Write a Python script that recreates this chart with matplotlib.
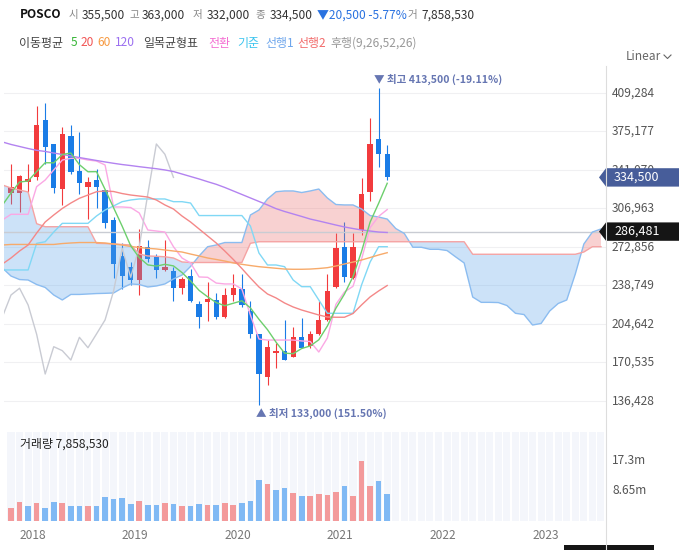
import numpy as np
import matplotlib
matplotlib.use('Agg')
import matplotlib.pyplot as plt
from matplotlib.patches import Polygon, Rectangle

plt.rcParams['font.family'] = ['Noto Sans CJK KR', 'DejaVu Sans']

W, H, DPI = 679, 550, 100

# ---------------- data (monthly candles, Oct 2017 .. Jun 2021) ----------------
opens = [320400, 320900, 330700, 335100, 385400, 364100, 324200, 371200, 339900, 326300,
         332200, 323300, 296800, 264900, 254900, 243900, 272600, 264000, 252700, 251600,
         236800, 247100, 222300, 224400, 225900, 211100, 230300, 235400, 216100, 195800,
         157900, 178700, 180700, 175700, 192800, 185400, 195500, 208200, 237100, 272800,
         245600, 287900, 321300, 368500, 355500]
highs = [346100, 336600, 346100, 397800, 400200, 364100, 378900, 380900, 375000, 334600,
         341700, 323300, 299700, 276100, 259300, 288800, 279000, 266400, 279000, 255400,
         246300, 253100, 225300, 241600, 231800, 236300, 248700, 248700, 225300, 195800,
         190400, 187500, 208200, 202200, 210200, 198400, 225000, 248900, 285000, 295300,
         285000, 334200, 387400, 413500, 363000]
lows = [310700, 304100, 321300, 332200, 346100, 320400, 310100, 337300, 319500, 297600,
        307100, 289400, 245600, 235600, 239200, 230300, 259800, 245100, 251600, 225300,
        231200, 224100, 200800, 207500, 209000, 210200, 225300, 219900, 192500, 133000,
        150600, 165900, 172700, 175700, 183100, 183100, 194900, 207300, 236200, 242100,
        244500, 283500, 313600, 344000, 332000]
closes = [326000, 335700, 333100, 380900, 361700, 325400, 373000, 339600, 329300, 330200,
          326300, 294400, 258000, 247400, 243600, 273700, 262200, 252700, 255100, 236800,
          244200, 225300, 210600, 226800, 211100, 230300, 236300, 221500, 195500, 160300,
          184500, 181000, 172700, 192800, 183600, 195800, 208200, 233900, 271700, 246000,
          273100, 319800, 364100, 355000, 334500]
volumes_m = [3.84, 5.38, 4.23, 5.09, 3.84, 5.38, 5.09, 4.23, 4.23, 4.23, 4.23,
             7.02, 6.25, 6.54, 4.80, 5.67, 4.52, 4.52, 5.09, 4.80, 4.23,
             4.23, 4.80, 4.52, 4.52, 5.09, 4.52, 5.09, 5.67, 11.72, 10.57,
             8.84, 9.42, 7.98, 7.11, 7.11, 7.69, 7.40, 8.27, 10.0, 7.11,
             17.2, 10.0, 11.44, 7.86]

# indicator lines, positions -1 .. 44
ma5 = [310000, 320700, 330400, 331300, 339700, 347500, 347400, 354800, 356100, 345800,
       339500, 339600, 323900, 307600, 291300, 273900, 263400, 257000, 255900, 257500,
       256100, 250200, 242800, 234400, 228700, 223600, 220800, 223000, 225200, 218900,
       208800, 199600, 188500, 178800, 178300, 182900, 185200, 190600, 202800, 218600,
       231100, 246600, 268900, 294900, 311600, 329300]
ma20 = [257800, 263100, 269300, 274600, 285200, 295000, 301200, 307000, 311800, 316000,
        318900, 321800, 322500, 322000, 320200, 318900, 318000, 317100, 314500, 310100,
        306500, 300300, 295000, 288800, 282600, 276400, 269300, 261800, 253800, 245400,
        237400, 231200, 227700, 223200, 219700, 217000, 214800, 212600, 210800, 210600,
        210600, 213900, 221500, 228600, 233900, 238700]
ma60 = [274600, 275100, 275100, 275100, 275100, 275100, 275100, 275900, 276400, 276800,
        276800, 276800, 276400, 275500, 274600, 273300, 272400, 271700, 271100, 270200,
        269300, 268400, 266600, 264900, 263100, 261800, 260400, 258700, 257500, 256400,
        255400, 254700, 254000, 253300, 253100, 253100, 253300, 253800, 254500, 256000,
        257800, 259500, 261300, 263500, 265800, 267800]
ma120 = [365900, 363700, 361900, 360100, 358500, 357500, 356100, 354800, 353500, 352100,
         350800, 349500, 348200, 347000, 345900, 345000, 344000, 343100, 342200, 341100,
         339700, 337500, 335300, 333100, 330700, 328400, 325600, 322500, 319400, 316300,
         313200, 310100, 306800, 304300, 302100, 299900, 297600, 295900, 294100, 292300,
         290600, 289200, 287900, 287000, 286100, 285700]
conversion = [296800, 301800, 301800, 301800, 326300, 332200, 341100, 349900, 351400, 351400,
              349900, 349000, 345500, 308300, 308300, 307800, 303000, 287900, 287000, 286100,
              273100, 263100, 258700, 246300, 246000, 240900, 240100, 240100, 235600, 212600,
              191300, 190400, 190400, 190400, 190400, 189600, 189100, 179800, 192200, 222000,
              233000, 238000, 262000, 290000, 300000, 306000]
base = [252500, 252500, 252500, 252500, 276100, 277500, 286100, 293800, 293800, 293800,
        293800, 300300, 305600, 309200, 313000, 314500, 315400, 315400, 315400, 315400,
        313000, 313000, 311800, 300700, 300700, 300700, 300700, 300700, 300700, 291400,
        267500, 256900, 256900, 255400, 243600, 237700, 237700, 225900, 214100, 214100,
        214100, 214100, 239200, 259500, 273100, 273100]
# leading spans, positions -1 .. 69
span1 = [254200, 247100, 244000, 243600, 239600, 237000, 230300, 225900, 230800, 230800,
         231200, 231600, 231800, 232100, 236500, 240100, 239600, 237400, 238300, 240100,
         244500, 248000, 255600, 264900, 273100, 274600, 276800, 276800, 276800, 301200,
         305600, 315400, 321800, 322500, 322500, 321100, 322500, 324200, 316300, 310500,
         310100, 310100, 306500, 300700, 299400, 297600, 289200, 284800, 272600, 272600,
         270800, 270800, 269700, 264100, 258700, 228500, 223800, 223800, 223600, 221000,
         214100, 213000, 203700, 205100, 216100, 222800, 225900, 248900, 275500, 286100,
         288800]
span2 = ([327800, 325100, 323300, 321600, 293500] + [290800] * 6 +
         [276100, 275900, 275500, 275100, 274600, 266600, 264900, 264600, 264200, 263100,
          259600] + [259100] * 7 + [276100] + [277500] * 25 + [266400] * 13 +
         [268400, 273100, 273100])

price_ticks = [136428, 170535, 204642, 238749, 272856, 306963, 341070, 375177, 409284]
vol_ticks = [8.65, 17.3]
vol_tick_labels = ['8.65m', '17.3m']
year_labels = ['2018', '2019', '2020', '2021', '2022', '2023']
year_pos = [2.5, 14.5, 26.5, 38.5, 50.5, 62.5]
last_price = 334500
cross_price = 286481

# ---------------- figure ----------------
fig = plt.figure(figsize=(W / DPI, H / DPI), dpi=DPI)


def px_box(l, t, r, b):
    return [l / W, 1 - b / H, (r - l) / W, (b - t) / H]


ax = fig.add_axes(px_box(4, 70, 606, 428))
axv = fig.add_axes(px_box(4, 432, 606, 521))
XL = (-0.8187, 69.59)
for a in (ax, axv):
    a.set_xlim(*XL)
    for s in a.spines.values():
        s.set_visible(False)
    a.tick_params(left=False, right=False, bottom=False, top=False,
                  labelleft=False, labelbottom=False)
ax.set_ylim(112474, 429662)
axv.set_ylim(0, 25.66e6)

o = np.array(opens); h = np.array(highs); l = np.array(lows); c = np.array(closes)
idx = np.arange(len(o))
RED, BLUE = '#f23b3d', '#1a7ce6'
ccol = np.where(c >= o, RED, BLUE)

for v in price_ticks:
    ax.axhline(v, color='#f0f0f2', lw=0.8, zorder=0)

# candles
ax.vlines(idx, l, h, colors=ccol, lw=0.8, zorder=2)
ax.bar(idx, np.maximum(np.abs(c - o), 700), bottom=np.minimum(o, c), width=0.62,
       color=ccol, lw=0, zorder=2)

# cloud
xs = np.arange(-1, 70)
s1 = np.array(span1); s2 = np.array(span2)
ax.fill_between(xs, s1, s2, where=s1 >= s2, interpolate=True, color='#eb6969',
                alpha=0.3, lw=0, zorder=3)
ax.fill_between(xs, s1, s2, where=s1 < s2, interpolate=True, color='#58a2eb',
                alpha=0.3, lw=0, zorder=3)
ax.plot(xs, s1, color='#8bbcf0', lw=1.0, zorder=4)
ax.plot(xs, s2, color='#f5a3a3', lw=1.0, zorder=4)

ax.axhline(cross_price, color='#c9ccd3', lw=1.0, zorder=3.5)

xl = np.arange(-1, 45)
ax.plot(xl, conversion, color='#fba8e4', lw=1.0, zorder=4)
ax.plot(xl, base, color='#80d8f5', lw=1.0, zorder=4)
ax.plot(np.arange(-1, 20), closes[24:45], color='#c9cbd3', lw=1.0, zorder=4)
ax.plot(xl, ma120, color='#b383f0', lw=1.0, zorder=4)
ax.plot(xl, ma60, color='#f7aa6a', lw=1.0, zorder=4)
ax.plot(xl, ma20, color='#f48888', lw=1.0, zorder=4)
ax.plot(xl, ma5, color='#6dcf6d', lw=1.0, zorder=4)

# price axis labels
ytr = ax.get_yaxis_transform()
for v in price_ticks:
    ax.text(1.0100, v, f'{v:,}', transform=ytr, ha='left', va='center',
            fontsize=8.6, color='#555555', clip_on=False, zorder=5)

HALF = 8150
for val, col in ((last_price, '#475d9a'), (cross_price, '#151515')):
    ax.add_patch(Polygon([(0.9884, val), (1.0, val + HALF), (1.16, val + HALF),
                          (1.16, val - HALF), (1.0, val - HALF)], closed=True,
                         transform=ytr, facecolor=col, edgecolor='none',
                         clip_on=False, zorder=6))
    ax.text(1.0133, val, f'{val:,}', transform=ytr, ha='left', va='center',
            fontsize=9, color='white', clip_on=False, zorder=7)

ANN = '#6676b2'
ax.annotate('▼ 최고 413,500 (-19.11%)', xy=(43, 413500), xytext=(-5, 3),
            textcoords='offset pixels', ha='left', va='bottom', fontsize=7.6,
            color=ANN, fontweight='bold', annotation_clip=False, zorder=7)
ax.annotate('▲ 최저 133,000 (151.50%)', xy=(29, 133000), xytext=(-3, -3),
            textcoords='offset pixels', ha='left', va='top', fontsize=7.6,
            color=ANN, fontweight='bold', annotation_clip=False, zorder=7)

# volume
axv.bar(np.arange(0, 70), 25.66e6, width=0.82, color='#f4f6fb', lw=0, zorder=0)
vcol = [RED if i == 0 or closes[i] >= closes[i - 1] else BLUE for i in range(len(closes))]
vcol = ['#f39a9b' if cc == RED else '#80b9f4' for cc in vcol]
axv.bar(idx, np.array(volumes_m) * 1e6, width=0.66, color=vcol, lw=0, zorder=2)
vtr = axv.get_yaxis_transform()
for v, s in zip(vol_ticks, vol_tick_labels):
    axv.text(1.0100, v * 1e6, s, transform=vtr, ha='left', va='center',
             fontsize=8.6, color='#555555', clip_on=False)
axv.set_xticks(year_pos, year_labels)
axv.tick_params(axis='x', labelbottom=True, length=0, pad=6, labelsize=8.6,
                labelcolor='#777777')

# ---------------- overlay (header etc.) ----------------
ov = fig.add_axes([0, 0, 1, 1])
ov.set_xlim(0, W); ov.set_ylim(H, 0); ov.axis('off'); ov.set_zorder(10)
ov.patch.set_alpha(0)

FS = 8.6
hdr = [(19.5, 'POSCO', '#111111', 'bold', FS), (69, '시', '#888888', 'normal', 7.6),
       (82, '355,500', '#333333', 'normal', FS), (129, '고', '#888888', 'normal', 7.6),
       (142, '363,000', '#333333', 'normal', FS), (193, '저', '#888888', 'normal', 7.6),
       (206.5, '332,000', '#333333', 'normal', FS), (255, '종', '#888888', 'normal', 7.6),
       (269.5, '334,500', '#333333', 'normal', FS),
       (317, '▼20,500 -5.77%', '#2a72e0', 'normal', FS),
       (408, '거', '#888888', 'normal', 7.6), (421.5, '7,858,530', '#333333', 'normal', FS)]
for x, s, col, wt, fs in hdr:
    ov.text(x, 15, s, ha='left', va='center', fontsize=fs, color=col, fontweight=wt)

leg = [(19.5, '이동평균', '#444444'), (71, '5', '#36b536'), (80.5, '20', '#f25555'),
       (97.5, '60', '#f79a42'), (115, '120', '#9b6ff0'), (143.5, '일목균형표', '#444444'),
       (208.5, '전환', '#f46ed2'), (237, '기준', '#3cc4ee'), (265, '선행1', '#6ea6ec'),
       (297, '선행2', '#f26b6b'), (330.5, '후행(9,26,52,26)', '#999999')]
for x, s, col in leg:
    ov.text(x, 43, s, ha='left', va='center', fontsize=FS, color=col)

ov.text(626, 57, 'Linear', ha='left', va='center', fontsize=FS, color='#666666')
ov.plot([664, 667.5, 671], [55, 58.5, 55], color='#666666', lw=0.8)
ov.plot([606, 606], [66, 550], color='#dddddd', lw=0.8)
ov.text(19.5, 444, '거래량 7,858,530', ha='left', va='center', fontsize=FS,
        color='#222222')
ov.add_patch(Rectangle((564, 545), 90, 6, facecolor='#151515', edgecolor='none'))

fig.savefig('out.png', dpi=DPI)
